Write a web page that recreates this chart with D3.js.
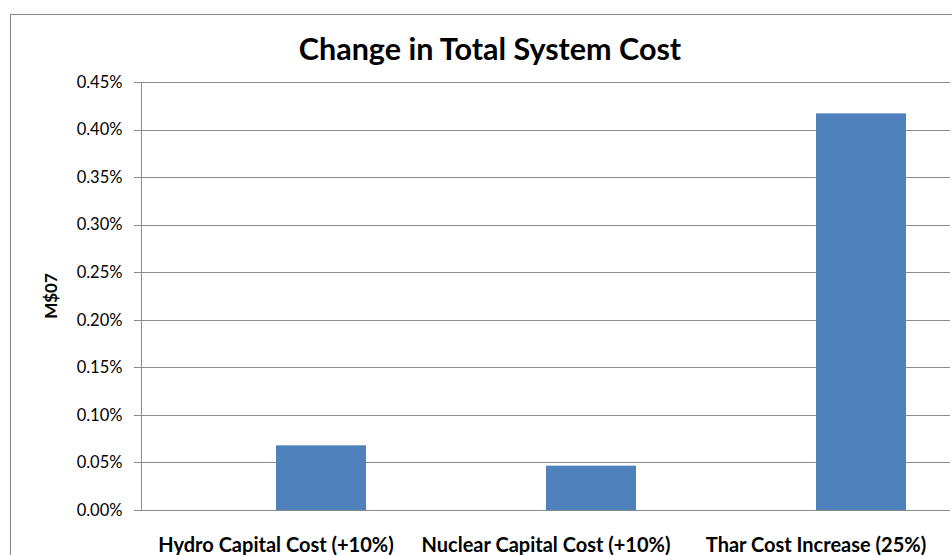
<!DOCTYPE html>
<html><head><meta charset="utf-8">
<script src="https://cdn.jsdelivr.net/npm/d3@7"></script>
<style>body{margin:0;background:#fff}svg{display:block}</style>
</head><body>
<script>
const categories = ["Hydro Capital Cost (+10%)", "Nuclear Capital Cost (+10%)", "Thar Cost Increase (25%)"];
const seriesNames = ["Series0", "Change"];
const values = [0.00068, 0.000466, 0.00417];
const yTicks = [0, 0.0005, 0.001, 0.0015, 0.002, 0.0025, 0.003, 0.0035, 0.004, 0.0045];
const title = "Change in Total System Cost";
const yLabel = "M$07";

(function () {
const W = 952, H = 555;
const font = "Lato, 'Open Sans', sans-serif";
const svg = d3.select("body").append("svg").attr("width", W).attr("height", H);
svg.append("rect").attr("x", 10.5).attr("y", 14.5).attr("width", W).attr("height", H)
  .attr("fill", "#fff").attr("stroke", "#868686").attr("stroke-width", 1);

const pL = 141, pR = 951, pT = 82, pB = 510;
const x = d3.scaleBand().domain(categories).range([pL, pR]);
const xs = d3.scaleBand().domain(seriesNames).range([0, x.bandwidth()]).paddingInner(0).paddingOuter(0.5);
const y = d3.scaleLinear().domain([0, 0.0045]).range([pB, pT]);

// gridlines
svg.append("g").selectAll("line").data(yTicks).join("line")
  .attr("x1", pL - 7).attr("x2", pR - 1)
  .attr("y1", d => Math.round(y(d)) + 0.5).attr("y2", d => Math.round(y(d)) + 0.5)
  .attr("stroke", "#8c8c8c").attr("stroke-width", 1);

// y axis
const ya = svg.append("g").attr("transform", `translate(${pL + 0.5},0)`)
  .call(d3.axisLeft(y).tickValues(yTicks).tickFormat(d3.format(".2%")).tickSize(0).tickPadding(19));
ya.select(".domain").attr("stroke", "#8c8c8c").attr("d", `M0,${pT}V${pB}`);
ya.selectAll("text").attr("font-family", font).attr("font-size", 16.5).attr("fill", "#000");

// bars
svg.append("g").selectAll("rect").data(values).join("rect")
  .attr("x", (d, i) => x(categories[i]) + xs("Change"))
  .attr("width", xs.bandwidth())
  .attr("y", d => y(d))
  .attr("height", d => y(0) - y(d))
  .attr("fill", "#4F81BD");

// x labels
svg.append("g").selectAll("text").data(categories).join("text")
  .attr("x", d => x(d) + x.bandwidth() / 2)
  .attr("y", 552)
  .attr("text-anchor", "middle")
  .attr("font-family", font).attr("font-weight", "bold").attr("font-size", 20)
  .text(d => d);

// title
svg.append("text").attr("x", 490).attr("y", 60).attr("text-anchor", "middle")
  .attr("font-family", font).attr("font-weight", "bold").attr("font-size", 30.5)
  .text(title);

// y label
svg.append("text").attr("transform", `translate(57,${(pT + pB) / 2}) rotate(-90)`)
  .attr("text-anchor", "middle")
  .attr("font-family", font).attr("font-weight", "bold").attr("font-size", 17)
  .text(yLabel);
})();
</script>
</body></html>
